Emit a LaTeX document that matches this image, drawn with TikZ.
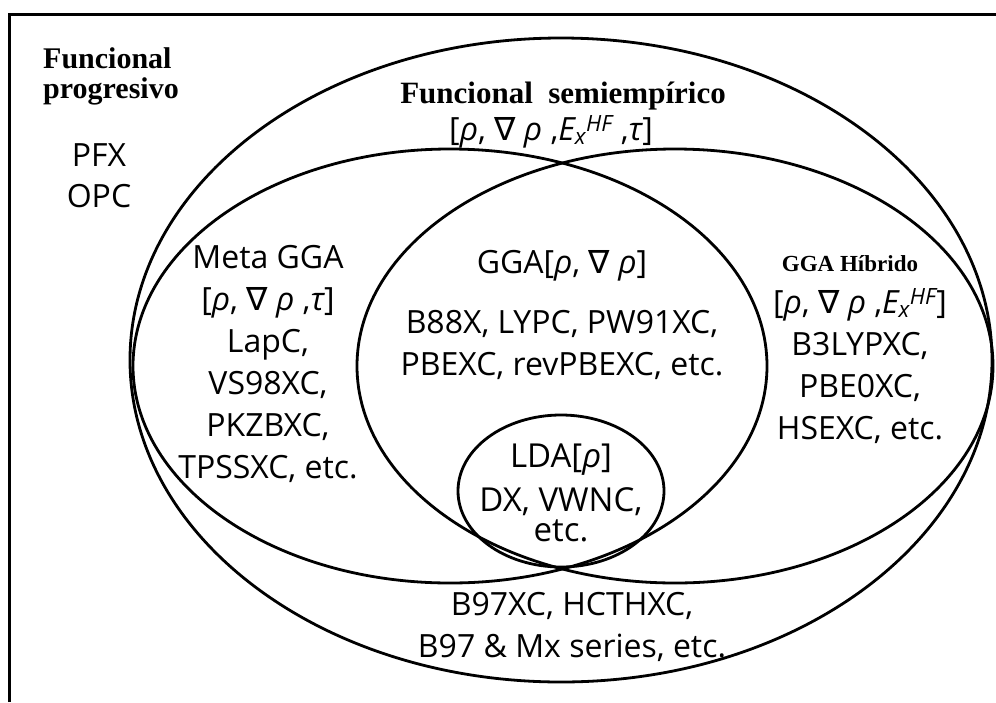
\documentclass[tikz,border=0pt]{standalone}
\usepackage{fontspec}
\setmainfont{Liberation Serif}
\setsansfont{Open Sans}
\newfontfamily\nablafont{DejaVu Sans}
\newcommand{\nab}{{\nablafont ∇}}
\newcommand{\rh}{{\itshape ρ}}

\begin{document}
\begin{tikzpicture}[x=1pt,y=-1pt,
	lbl/.style={font=\sffamily\fontsize{32}{42}\selectfont,align=center,inner sep=0pt},
	ttl/.style={font=\rmfamily\bfseries\fontsize{31}{30}\selectfont,inner sep=0pt},
	set/.style={line width=2.8pt}]
	\useasboundingbox (0,0) rectangle (996,702);
	\draw[line width=3pt] (9,702) -- (9,14) -- (996,14);
	% the sets
	\draw[set] (561,360) ellipse (431pt and 322pt);
	\draw[set] (450,366) ellipse (317pt and 217pt);
	\draw[set] (675,366) ellipse (318pt and 217pt);
	\draw[set] (561,491) ellipse (103pt and 76pt);
	% labels
	\node[ttl,align=left,anchor=west,font=\rmfamily\bfseries\fontsize{30}{30}\selectfont] (prog) at (43,76) {Funcional\\progresivo};
	\node[lbl,font=\sffamily\fontsize{32}{41}\selectfont] (progx) at (99,176) {PFX\\OPC};
	\node[ttl] (semi) at (563,96) {Funcional\hspace{0.5em}semiempírico};
	\node[lbl] (semix) at (551,132) {[\rh, \nab\ \rh\ ,{\itshape E}\textsubscript{\itshape x}\textsuperscript{\itshape HF} ,{\itshape τ}]};
	\node[lbl] (meta) at (268,364) {Meta GGA\\{[}\rh, \nab\ \rh\ ,{\itshape τ}]\\LapC,\\VS98XC,\\PKZBXC,\\TPSSXC, etc.};
	\node[lbl] (gga) at (562,315) {GGA[\rh, \nab\ \rh]\\[18pt]B88X, LYPC, PW91XC,\\PBEXC, revPBEXC, etc.};
	\node[lbl,font=\sffamily\fontsize{33}{42}\selectfont] (lda) at (561,493) {LDA[\rh]\\[2pt]DX, VWNC,\\[-12pt]etc.};
	\node[ttl,font=\rmfamily\bfseries\fontsize{23}{23}\selectfont] (hib) at (850,264) {GGA Híbrido};
	\node[lbl] (hibx) at (860,366) {[\rh, \nab\ \rh\ ,{\itshape E}\textsubscript{\itshape x}\textsuperscript{\itshape HF}]\\B3LYPXC,\\PBE0XC,\\HSEXC, etc.};
	\node[lbl] (semib) at (572,627) {B97XC, HCTHXC,\\B97 \& Mx series, etc.};
\end{tikzpicture}
\end{document}
